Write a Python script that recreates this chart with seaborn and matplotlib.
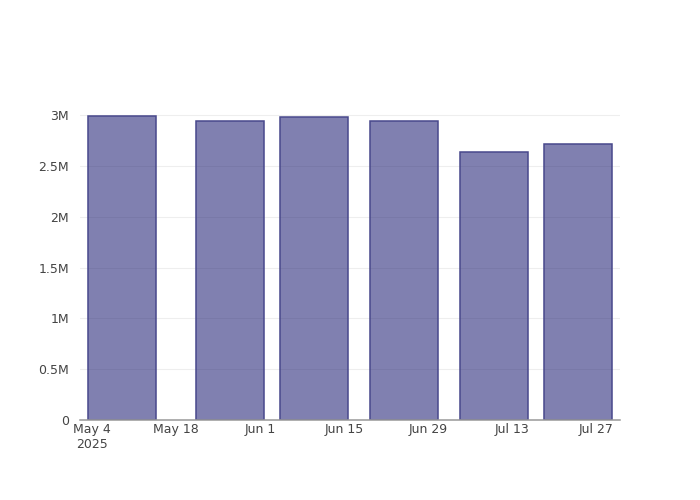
import matplotlib
matplotlib.use("Agg")
import matplotlib.pyplot as plt
import matplotlib.dates as mdates
import matplotlib.ticker as mticker
import seaborn as sns
import pandas as pd
import numpy as np

# --- data ---
dates = ["2025-05-09", "2025-05-27", "2025-06-10", "2025-06-25", "2025-07-10", "2025-07-24"]
values = [2992000, 2940000, 2976000, 2940000, 2633000, 2712000]
tick_dates = ["2025-05-04", "2025-05-18", "2025-06-01", "2025-06-15", "2025-06-29", "2025-07-13", "2025-07-27"]
tick_labels = ["May 4\n2025", "May 18", "Jun 1", "Jun 15", "Jun 29", "Jul 13", "Jul 27"]
y_ticks = [0, 500000, 1000000, 1500000, 2000000, 2500000, 3000000]
y_labels = ["0", "0.5M", "1M", "1.5M", "2M", "2.5M", "3M"]

sns.set_theme(style="white")
plt.rcParams['font.family'] = ['DejaVu Sans']

df = pd.DataFrame({"x": mdates.date2num(pd.to_datetime(dates)), "y": values})

fig = plt.figure(figsize=(7, 5), dpi=100)
ax = fig.add_axes([80 / 700, 80 / 500, 540 / 700, 320 / 500])

sns.barplot(data=df, x="x", y="y", native_scale=True, width=0.8,
            color="midnightblue", alpha=0.55, ax=ax, zorder=3)
for p in ax.patches:
    p.set_edgecolor("#48488c")
    p.set_linewidth(1.1)
    p.set_alpha(None)
    p.set_facecolor((25 / 255, 25 / 255, 112 / 255, 0.55))

ax.set_xlim(mdates.date2num(pd.Timestamp("2025-05-02")), mdates.date2num(pd.Timestamp("2025-07-31")))
ax.set_ylim(0, 3148000)

ax.set_xticks(mdates.date2num(pd.to_datetime(tick_dates)))
ax.set_xticklabels(tick_labels)
ax.set_yticks(y_ticks)
ax.set_yticklabels(y_labels)

ax.tick_params(axis="both", length=0, labelsize=9, colors="#444444")
ax.tick_params(axis="x", pad=2)
ax.tick_params(axis="y", pad=8)
for lab in ax.get_xticklabels():
    lab.set_verticalalignment("top")

ax.grid(axis="y", color="#eeeeee", linewidth=0.8, zorder=0)
ax.set_axisbelow(True)
for s in ["top", "right", "left"]:
    ax.spines[s].set_visible(False)
ax.spines["bottom"].set_color("#999999")
ax.spines["bottom"].set_linewidth(1.1)
ax.spines["bottom"].set_zorder(4)

ax.set_xlabel("")
ax.set_ylabel("")

fig.savefig("out.png", dpi=100)
